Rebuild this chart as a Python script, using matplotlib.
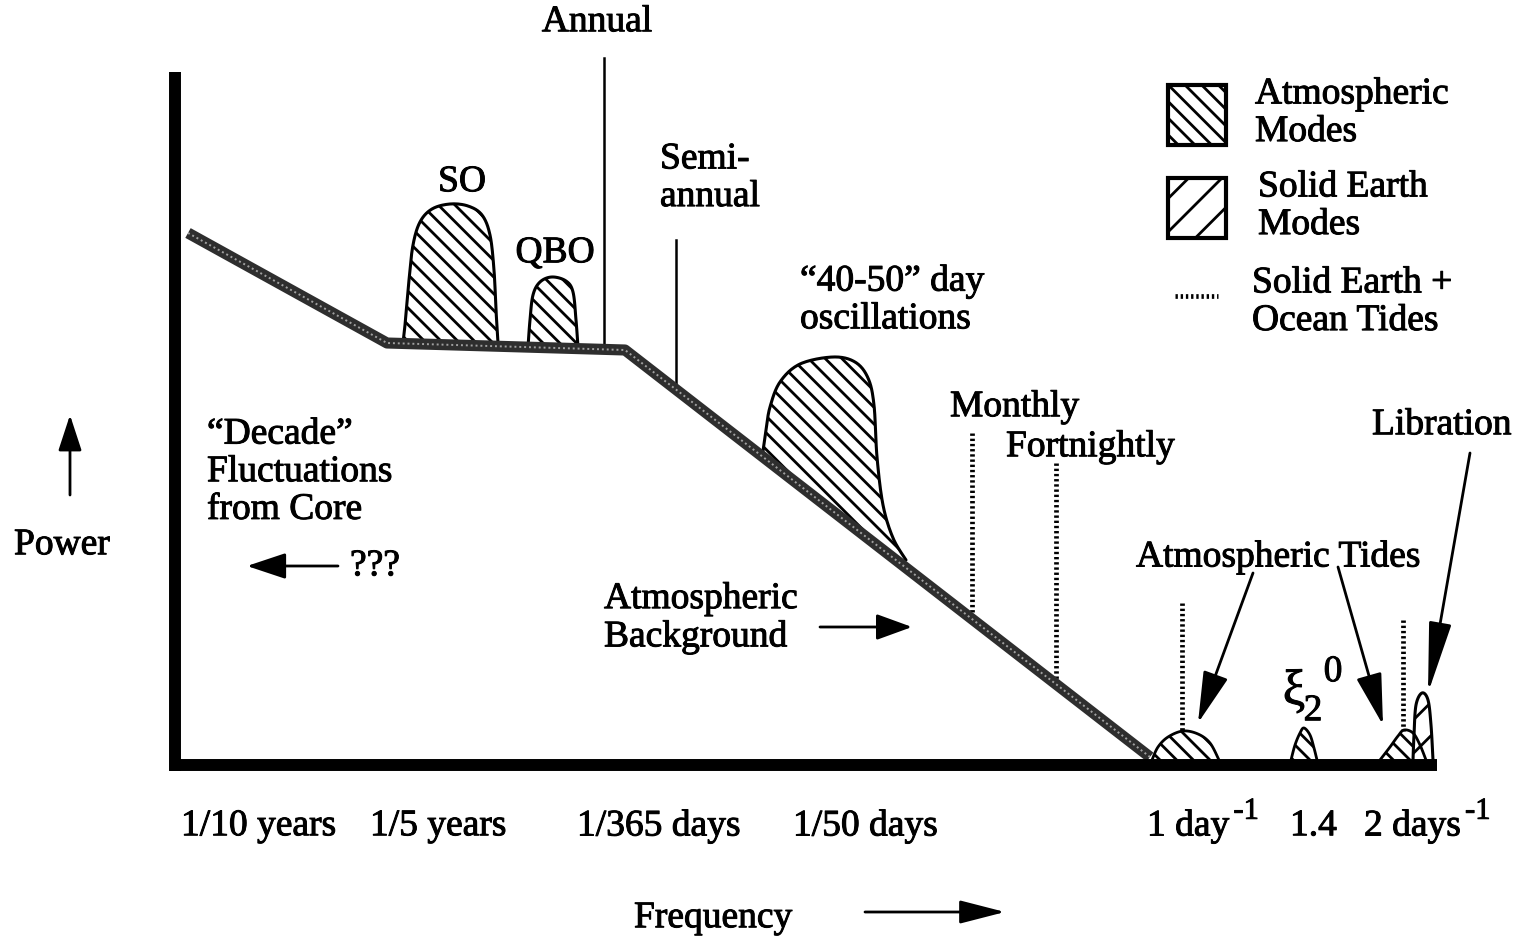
import numpy as np
import matplotlib.pyplot as plt
import matplotlib.patheffects as pe
from matplotlib.patches import Rectangle

plt.rcParams['font.family'] = ['Liberation Serif', 'DejaVu Serif']
plt.rcParams['hatch.linewidth'] = 2.0

# schematic drawn in the pixel frame of the original (y grows downward)
# atmospheric background spectrum
bg_x = [188, 387, 625, 1150]
bg_y = [233, 343, 350, 757]

# atmospheric modes (outline points)
so_x = [403, 405, 409, 413, 420, 432, 450, 468, 482, 490, 494, 496, 498]
so_y = [343, 325, 280, 245, 222, 209, 204, 206, 215, 235, 270, 310, 343]
qbo_x = [528, 530, 533, 540, 552, 566, 573, 576, 578]
qbo_y = [347, 320, 295, 282, 277, 281, 292, 320, 347]
mjo_x = [762, 766, 770, 780, 800, 833, 855, 868, 874, 877, 883, 893, 906]
mjo_y = [458, 430, 407, 382, 364, 357, 362, 378, 405, 457, 505, 538, 560]

# tidal bumps on the frequency axis
diurnal_x = [1152, 1158, 1168, 1183, 1198, 1210, 1219]
diurnal_y = [760, 747, 737, 731, 734, 743, 760]
fcn_x = [1291, 1295, 1300, 1304, 1310, 1314, 1317]
fcn_y = [760, 745, 733, 728, 735, 748, 760]
semidiurnal_x = [1380, 1390, 1398, 1404, 1413, 1420, 1426]
semidiurnal_y = [760, 747, 736, 730, 733, 745, 760]
libration_x = [1413, 1414, 1416, 1422, 1428, 1431, 1433]
libration_y = [760, 735, 705, 693, 700, 725, 760]

# solid earth + ocean tide lines: x, top
tide_line_x = [972, 1056, 1182, 1403]
tide_line_top = [433, 463, 603, 620]

tick_labels = ['1/10 years', '1/5 years', '1/365 days', '1/50 days',
               '1 day', '1.4', '2 days']
tick_sup = ['', '', '', '', '-1', '', '-1']
tick_pos = [181, 370, 577, 793, 1147, 1290, 1364]

FS = 27
LS = 1.12
ATM_HATCH = '\\\\'
SOL_HATCH = '/'
INK = [pe.withStroke(linewidth=0.7, foreground='black')]


def smooth(xs, ys, n=14):
    P = np.column_stack([xs, ys]).astype(float)
    P = np.vstack([P[0], P, P[-1]])
    out = []
    t = np.linspace(0, 1, n, endpoint=False)[:, None]
    for i in range(1, len(P) - 2):
        p0, p1, p2, p3 = P[i - 1], P[i], P[i + 1], P[i + 2]
        seg = 0.5 * ((2 * p1) + (-p0 + p2) * t
                     + (2 * p0 - 5 * p1 + 4 * p2 - p3) * t ** 2
                     + (-p0 + 3 * p1 - 3 * p2 + p3) * t ** 3)
        out.append(seg)
    out.append(P[-2][None])
    pts = np.vstack(out)
    return pts[:, 0], pts[:, 1]


def mode(ax, xs, ys, hatch, base=None, lw=2.2):
    x, y = smooth(xs, ys)
    bx = x[::-1]
    if base is None:
        by = np.full_like(bx, max(ys))
    else:
        by = np.interp(bx, bg_x, bg_y)
    ax.fill(np.concatenate([x, bx]), np.concatenate([y, by]), facecolor='white',
            edgecolor='black', hatch=hatch, linewidth=0, zorder=2)
    ax.plot(x, y, color='black', lw=lw, zorder=3, solid_capstyle='round')


def arrow(ax, tail, tip, hl=1.6, hw=0.4, lw=2.0):
    ax.annotate('', xy=tip, xytext=tail,
                arrowprops=dict(arrowstyle='-|>,head_length=%g,head_width=%g' % (hl, hw),
                                lw=lw, color='black', shrinkA=0, shrinkB=0,
                                mutation_scale=20), zorder=6)


fig = plt.figure(figsize=(15.22, 9.42), dpi=100)
ax = fig.add_axes([0, 0, 1, 1])
ax.set_xlim(0, 1522)
ax.set_ylim(942, 0)
ax.axis('off')

# axes of the schematic
ax.plot([175, 175], [72, 771], color='black', lw=8.6, solid_capstyle='butt', zorder=5)
ax.plot([170, 1437], [765, 765], color='black', lw=8.6, solid_capstyle='butt', zorder=5)

# background
ax.plot(bg_x, bg_y, color='#2e2e2e', lw=8.0, zorder=4, solid_capstyle='butt',
        solid_joinstyle='round')
ax.plot(bg_x, bg_y, color='white', lw=1.4, ls=(0, (1, 1.5)), alpha=0.55, zorder=4)

mode(ax, so_x, so_y, ATM_HATCH)
mode(ax, qbo_x, qbo_y, ATM_HATCH)
mode(ax, mjo_x, mjo_y, ATM_HATCH, base='bg')
mode(ax, diurnal_x, diurnal_y, ATM_HATCH, lw=2.0)
mode(ax, fcn_x, fcn_y, ATM_HATCH, lw=2.0)
mode(ax, semidiurnal_x, semidiurnal_y, ATM_HATCH, lw=2.0)
mode(ax, libration_x, libration_y, SOL_HATCH, lw=2.2)

# annual / semi-annual lines
ax.plot([604, 604], [58, 348], color='black', lw=1.8, zorder=3)
ax.plot([676, 676], [240, np.interp(676, bg_x, bg_y)], color='black', lw=1.8, zorder=3)

# tide lines (dotted)
for x, top in zip(tide_line_x, tide_line_top):
    bot = np.interp(x, bg_x, bg_y) if x < 1150 else 731
    ax.plot([x, x], [top, bot], color='black', lw=3.4, ls=(0, (0.5, 0.6)), zorder=3)

# labels
txt = dict(fontsize=FS, color='black', va='center', path_effects=INK)
ax.text(597, 22, 'Annual', ha='center', **txt)
ax.text(462, 182, 'SO', ha='center', **txt)
ax.text(555, 253, 'QBO', ha='center', **txt)
ax.text(660, 178, 'Semi-\nannual', ha='left', linespacing=LS, **txt)
ax.text(800, 300, '\u201c40-50\u201d day\noscillations', ha='left', linespacing=LS, **txt)
ax.text(950, 407, 'Monthly', ha='left', **txt)
ax.text(1006, 447, 'Fortnightly', ha='left', **txt)
ax.text(1372, 425, 'Libration', ha='left', **txt)
ax.text(1136, 557, 'Atmospheric Tides', ha='left', **txt)
ax.text(207, 472, '\u201cDecade\u201d\nFluctuations\nfrom Core', ha='left',
        linespacing=LS, **txt)
ax.text(350, 566, '???', ha='left', **txt)
ax.text(604, 618, 'Atmospheric\nBackground', ha='left', linespacing=LS, **txt)
ax.text(14, 545, 'Power', ha='left', **txt)
ax.text(634, 918, 'Frequency', ha='left', **txt)
ax.text(1294, 692, '\u03be', ha='center', fontsize=36, va='center', path_effects=INK)
ax.text(1313, 711, '2', ha='center', **txt)
ax.text(1333, 672, '0', ha='center', **txt)

for lab, sup, x in zip(tick_labels, tick_sup, tick_pos):
    t = ax.text(x, 826, lab, ha='left', **txt)
    if sup:
        ax.annotate(sup, xy=(1, 1), xycoords=t, xytext=(3, -2),
                    textcoords='offset points', ha='left', va='center',
                    fontsize=22, path_effects=INK)

# arrows
arrow(ax, (1253, 573), (1198, 723))
arrow(ax, (1338, 567), (1383, 725))
arrow(ax, (1470, 453), (1428, 693), hl=2.2, hw=0.35)
arrow(ax, (70, 495), (70, 415), hl=1.1, hw=0.36)
arrow(ax, (338, 566), (247, 566), hl=1.2, hw=0.4)
arrow(ax, (820, 627), (912, 627), hl=1.1, hw=0.4)
arrow(ax, (865, 912), (1005, 912), hl=1.4, hw=0.36)

# legend
ax.add_patch(Rectangle((1168, 85), 58, 60, facecolor='white', edgecolor='black',
                       hatch=ATM_HATCH, lw=3, zorder=3))
ax.add_patch(Rectangle((1168, 178), 58, 60, facecolor='white', edgecolor='black',
                       hatch=SOL_HATCH, lw=3, zorder=3))
ax.plot([1175, 1218], [296, 296], color='black', lw=3.4, ls=(0, (0.5, 0.6)))
ax.text(1255, 113, 'Atmospheric\nModes', ha='left', linespacing=LS, **txt)
ax.text(1258, 206, 'Solid Earth\nModes', ha='left', linespacing=LS, **txt)
ax.text(1252, 302, 'Solid Earth +\nOcean Tides', ha='left', linespacing=LS, **txt)

fig.savefig('out.png', dpi=100)
